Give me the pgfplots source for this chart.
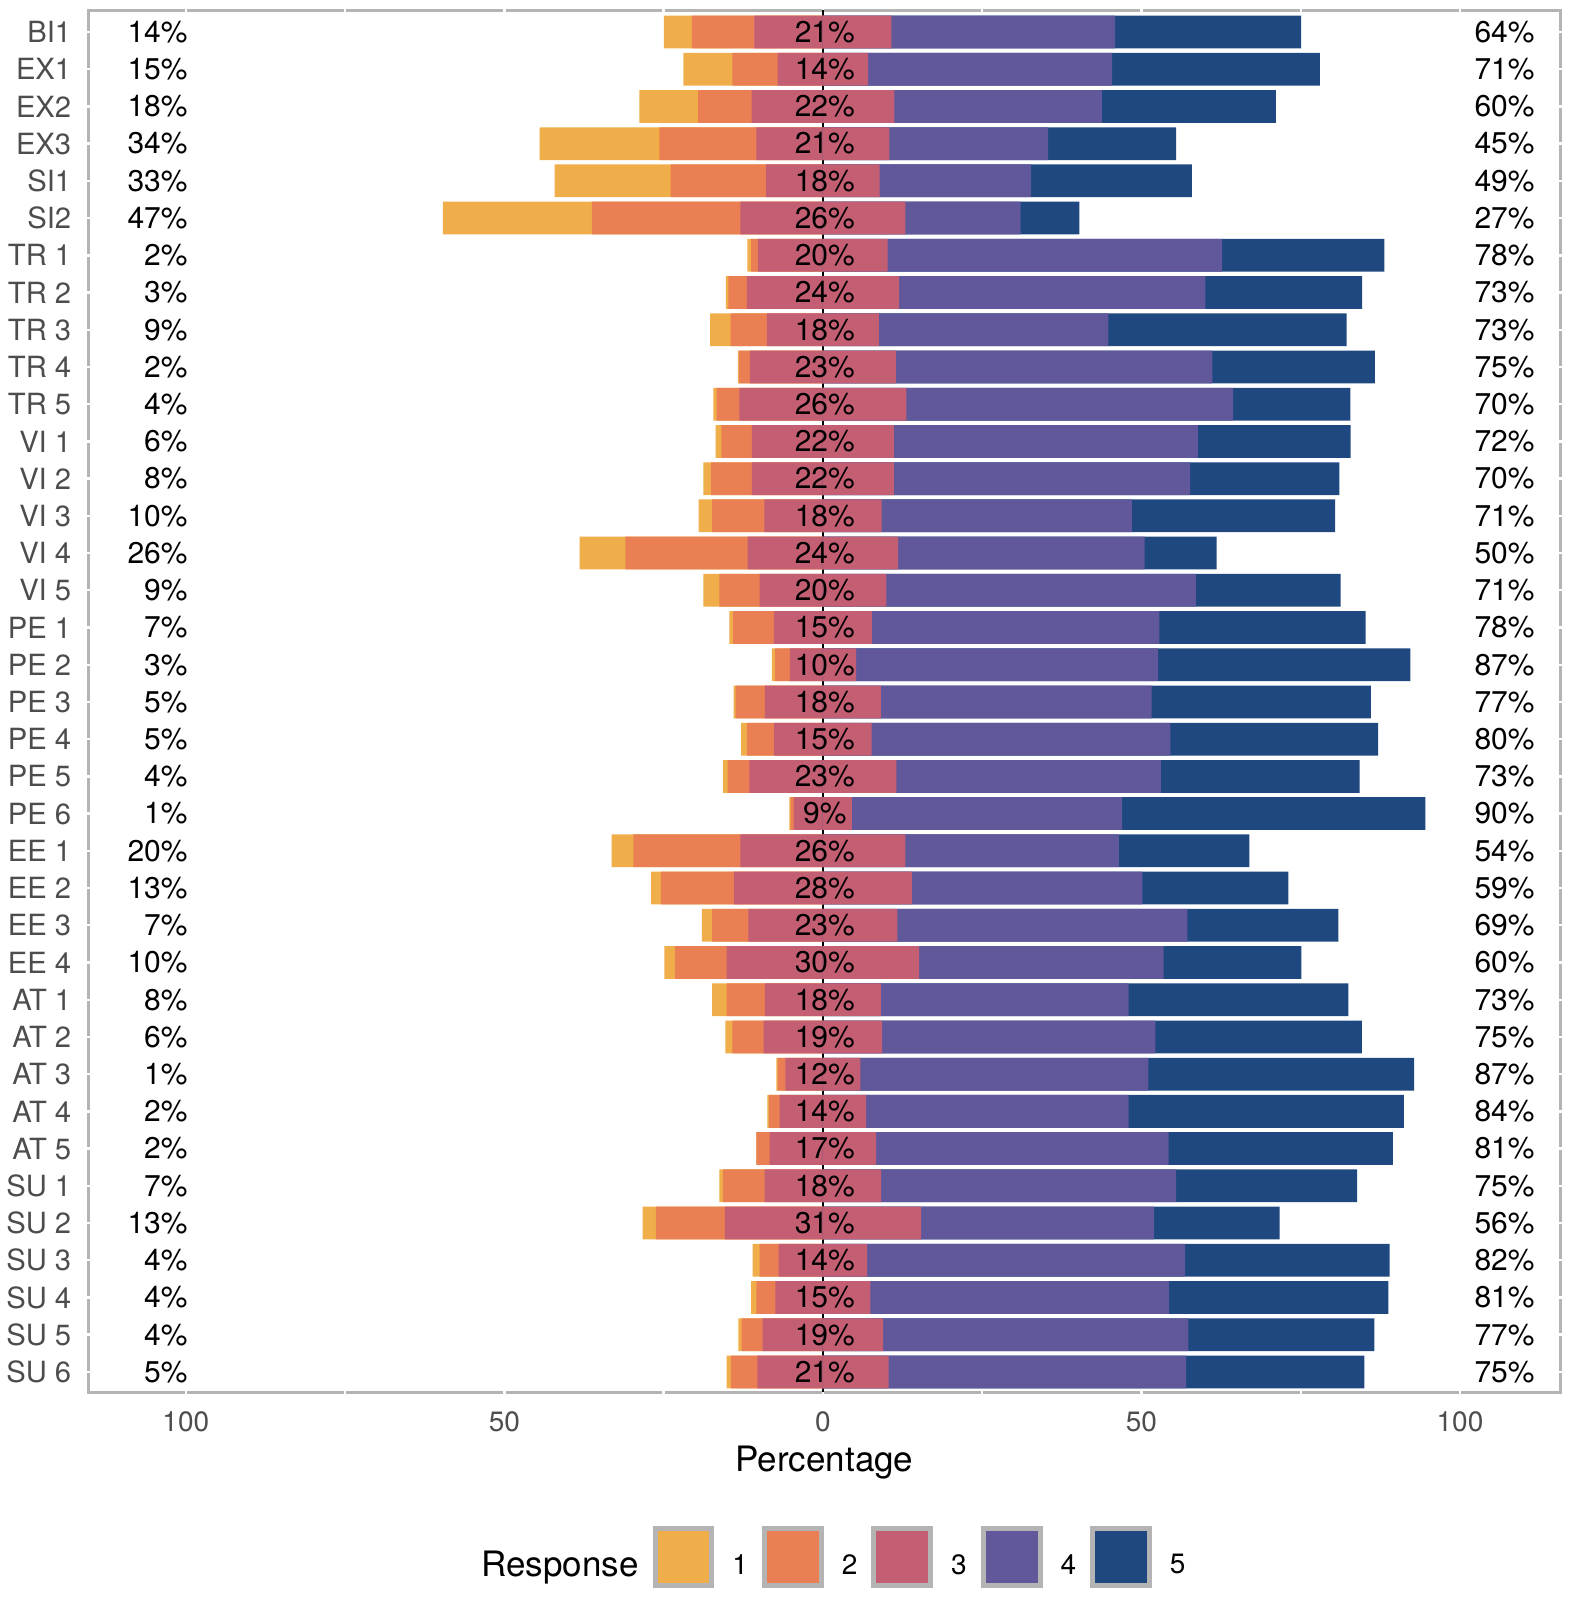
\documentclass[border=0pt]{standalone}
\usepackage{pgfplots}
\pgfplotsset{compat=1.18}
\usepackage{pgfplotstable}
\usepackage{fontspec}
\setmainfont{TeX Gyre Heros}
\definecolor{c1}{RGB}{240,174,74}
\definecolor{c2}{RGB}{233,127,82}
\definecolor{c3}{RGB}{196,94,115}
\definecolor{c4}{RGB}{97,87,155}
\definecolor{c5}{RGB}{31,72,128}
\definecolor{bordergray}{RGB}{180,180,180}
\definecolor{tickgray}{RGB}{77,77,77}

\pgfplotstableread[col sep=comma]{
name,p1,p2,p3,p4,p5,L,M,R
BI1,4.4,9.8,21.5,35.1,29.2,14,21,64
EX1,7.7,7.1,14.2,38.3,32.6,15,14,71
EX2,9.2,8.4,22.4,32.6,27.3,18,22,60
EX3,18.8,15.2,20.9,24.9,20.1,34,21,45
SI1,18.2,15.0,17.8,23.8,25.2,33,18,49
SI2,23.4,23.3,25.9,18.1,9.2,47,26,27
TR 1,0.6,1.1,20.3,52.5,25.5,2,20,78
TR 2,0.4,2.9,23.9,48.1,24.6,3,24,73
TR 3,3.2,5.7,17.6,36.0,37.4,9,18,73
TR 4,0.2,1.7,22.9,49.7,25.5,2,23,75
TR 5,0.5,3.6,26.2,51.3,18.4,4,26,70
VI 1,0.9,4.8,22.3,47.7,24.0,6,22,72
VI 2,1.2,6.4,22.3,46.5,23.4,8,22,70
VI 3,2.1,8.2,18.4,39.3,31.9,10,18,71
VI 4,7.2,19.2,23.6,38.7,11.3,26,24,50
VI 5,2.5,6.3,19.9,48.6,22.7,9,20,71
PE 1,0.6,6.4,15.4,45.1,32.4,7,15,78
PE 2,0.5,2.3,10.4,47.4,39.6,3,10,87
PE 3,0.3,4.6,18.2,42.5,34.4,5,18,77
PE 4,0.9,4.3,15.3,46.9,32.6,5,15,80
PE 5,0.7,3.4,23.1,41.5,31.2,4,23,73
PE 6,0.2,0.5,9.1,42.4,47.6,1,9,90
EE 1,3.4,16.8,25.9,33.5,20.5,20,26,54
EE 2,1.5,11.5,27.9,36.2,22.9,13,28,59
EE 3,1.6,5.7,23.4,45.5,23.7,7,23,69
EE 4,1.7,8.1,30.2,38.4,21.6,10,30,60
AT 1,2.3,6.0,18.2,38.9,34.5,8,18,73
AT 2,1.1,4.9,18.6,42.9,32.4,6,19,75
AT 3,0.2,1.2,11.8,45.2,41.7,1,12,87
AT 4,0.2,1.7,13.6,41.2,43.2,2,14,84
AT 5,0.0,2.1,16.7,45.9,35.2,2,17,81
SU 1,0.6,6.5,18.3,46.3,28.4,7,18,75
SU 2,2.1,10.8,30.8,36.6,19.7,13,31,56
SU 3,1.1,3.0,13.9,49.9,32.1,4,14,82
SU 4,0.8,3.0,14.9,46.9,34.4,4,15,81
SU 5,0.5,3.3,18.9,47.9,29.2,4,19,77
SU 6,0.7,4.1,20.6,46.7,28.0,5,21,75
}\data

\pgfplotsset{
  legkey/.style={legend image code/.code={
    \draw[draw=bordergray, line width=1.25pt, fill=#1] (0pt,-4.6pt) rectangle (14.2pt,9.6pt);}},
  barstyle/.style={xbar, bar width=0.88, bar shift=0pt, draw=none, forget plot},
  lbl/.style={only marks, mark=*, mark size=0pt, mark options={draw=none, fill=none}, forget plot,
    point meta=explicit symbolic, nodes near coords={\pgfplotspointmeta\%},
    every node near coord/.append style={anchor=#1, inner sep=0pt, text=black, font=\fontsize{7.5}{9}\selectfont}},
}

\begin{document}
\begin{tikzpicture}
\path[use as bounding box] (0,0) rectangle (392.5pt,400pt);
\begin{axis}[
  at={(22.25pt,52pt)}, anchor=south west,
  width=367.75pt, height=345.5pt, scale only axis,
  xmin=-115.2, xmax=115.7, ymin=-0.59, ymax=36.54, y dir=reverse,
  axis line style={draw=none},
  axis background/.style={draw=bordergray, line width=0.75pt},
  xtick={-100,-50,0,50,100}, xticklabels={100,50,0,50,100},
  minor xtick={-75,-25,25,75},
  ytick={0,...,36}, yticklabels from table={\data}{name},
  tick align=center, major tick length=3pt, minor tick length=3pt,
  tick style={draw=white, line width=0.6pt},
  xticklabel style={anchor=base, yshift=-8.4pt, inner sep=0pt, text=tickgray, font=\fontsize{7}{8}\selectfont},
  yticklabel style={anchor=east, inner sep=0pt, xshift=-2.75pt, text=tickgray, font=\fontsize{7.3}{8}\selectfont},
  xlabel={Percentage},
  xlabel style={at={(axis description cs:0.5,0)}, anchor=base, yshift=-19.9pt, inner sep=0pt, font=\fontsize{8.75}{10}\selectfont},
  legend style={at={(axis description cs:0.5,0)}, anchor=center, yshift=-41.3pt, draw=none, fill=none,
    font=\fontsize{7}{8}\selectfont, nodes={inner sep=0pt},
    /tikz/every odd column/.append style={column sep=4.5pt},
    /tikz/every even column/.append style={column sep=3.5pt}},
  legend columns=-1,
]
\addplot[black, line width=0.5pt, forget plot] coordinates {(0,-0.59) (0,36.54)};

\addplot[barstyle, fill=c1] table[x expr={-(\thisrow{p3}/2+\thisrow{p2}+\thisrow{p1})}, y expr=\coordindex]{\data};
\addplot[barstyle, fill=c2] table[x expr={-(\thisrow{p3}/2+\thisrow{p2})}, y expr=\coordindex]{\data};
\addplot[barstyle, fill=c3] table[x expr={-(\thisrow{p3}/2)}, y expr=\coordindex]{\data};
\addplot[barstyle, fill=c5] table[x expr={\thisrow{p3}/2+\thisrow{p4}+\thisrow{p5}}, y expr=\coordindex]{\data};
\addplot[barstyle, fill=c4] table[x expr={\thisrow{p3}/2+\thisrow{p4}}, y expr=\coordindex]{\data};
\addplot[barstyle, fill=c3] table[x expr={\thisrow{p3}/2}, y expr=\coordindex]{\data};

\addplot[lbl=east] table[x expr=-99.6, y expr=\coordindex, meta=L]{\data};
\addplot[lbl=center] table[x expr=0.3, y expr=\coordindex, meta=M]{\data};
\addplot[lbl=center] table[x expr=107.0, y expr=\coordindex, meta=R]{\data};

\addlegendimage{empty legend}
\addlegendentry{\fontsize{8.75}{10}\selectfont Response}
\addlegendimage{legkey=c1}\addlegendentry{1}
\addlegendimage{legkey=c2}\addlegendentry{2}
\addlegendimage{legkey=c3}\addlegendentry{3}
\addlegendimage{legkey=c4}\addlegendentry{4}
\addlegendimage{legkey=c5}\addlegendentry{5}
\end{axis}
\end{tikzpicture}
\end{document}
